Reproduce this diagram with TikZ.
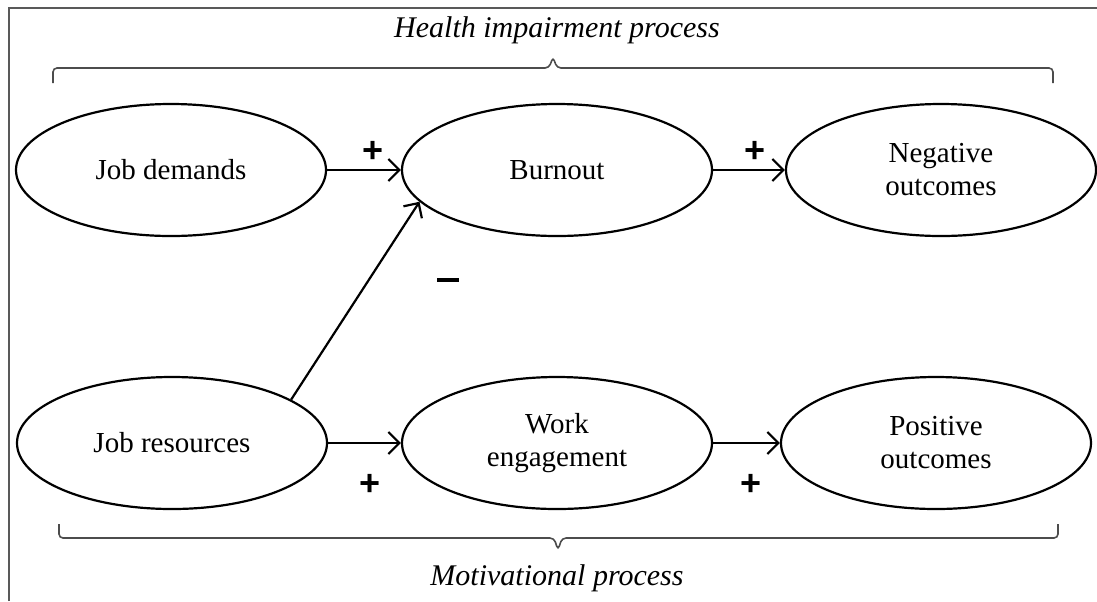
\documentclass[tikz,border=0pt]{standalone}
\usepackage{fontspec}
\setmainfont{Liberation Serif}
\newfontfamily\signfont{Liberation Sans}
\usetikzlibrary{shapes.geometric,arrows.meta}
\begin{document}
\begin{tikzpicture}[x=0.5pt,y=-0.5pt,
  oval/.style={ellipse,draw,line width=1.1pt,minimum width=155pt,minimum height=66pt,inner sep=0pt,align=center,font=\fontsize{14.5}{16.5}\selectfont},
  arr/.style={line width=1.1pt,-{Straight Barb[length=5.5pt,width=11pt,line width=1.1pt]}},
  sign/.style={font=\signfont\bfseries\fontsize{18}{18}\selectfont},
  brace/.style={draw=black!70,line width=0.8pt,rounded corners=2pt},
  frame/.style={draw=black!65,line width=0.9pt},
  proc/.style={font=\itshape\fontsize{15}{17}\selectfont}]
\useasboundingbox (0,0) rectangle (1097,601);
\draw[frame] (9,601) -- (9,8) -- (1097,8);
% ellipses
\node[oval] (jd) at (171,170) {Job demands};
\node[oval] (bo) at (557,170) {Burnout};
\node[oval] (no) at (941,170) {Negative\\outcomes};
\node[oval] (jr) at (172,443) {Job resources};
\node[oval] (we) at (557,443) {Work\\engagement};
\node[oval] (po) at (936,443) {Positive\\outcomes};
% arrows
\draw[arr] (jd) -- (bo);
\draw[arr] (bo) -- (no);
\draw[arr] (jr) -- (we);
\draw[arr] (we) -- (po);
\draw[arr] (jr.20) -- (bo.193);
% signs
\node[sign] (s1) at (373,152) {+};
\node[sign] (s2) at (755,152) {+};
\node[sign] (s3) at (448,283) {\rule[3pt]{11pt}{1.8pt}};
\node[sign] (s4) at (370,485) {+};
\node[sign] (s5) at (751,485) {+};
% braces
\draw[brace] (53,83) -- (53,68) -- (549,68) -- (553,57) -- (557,68) -- (1053,68) -- (1053,83);
\draw[brace] (59,524) -- (59,538) -- (554,538) -- (558,550) -- (562,538) -- (1058,538) -- (1058,524);
% process labels
\node[proc] (hp) at (557,30) {Health impairment process};
\node[proc] (mp) at (557,578) {Motivational process};
\end{tikzpicture}
\end{document}
